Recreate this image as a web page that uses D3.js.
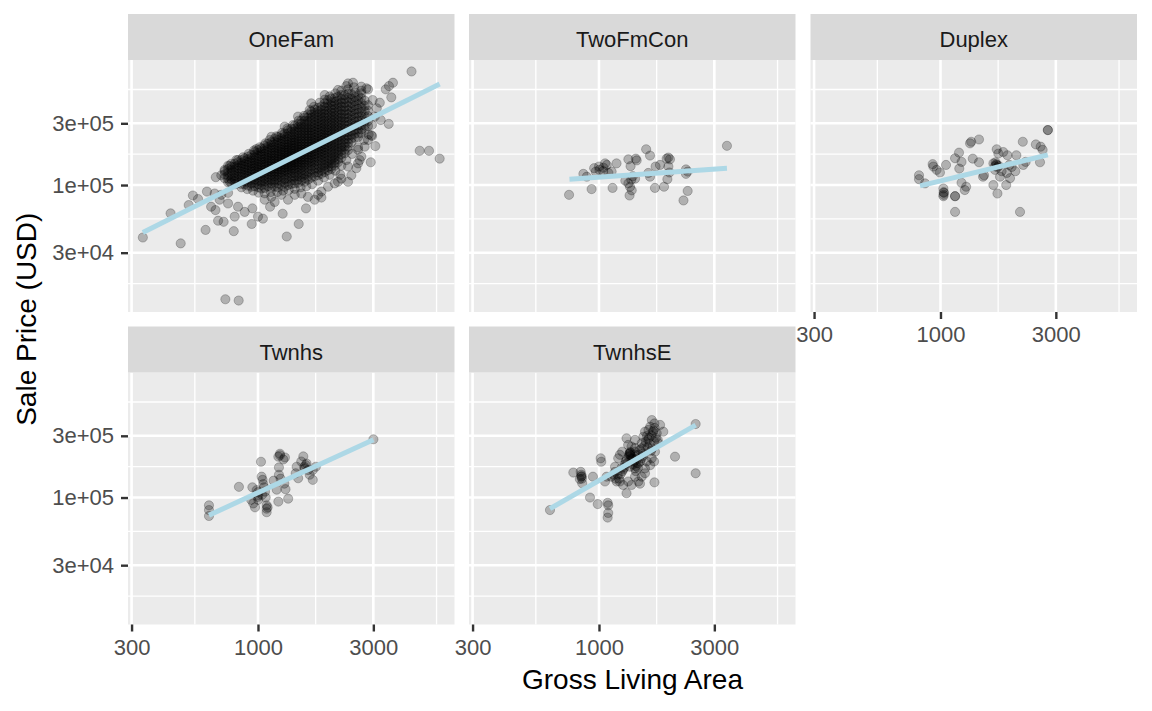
<!DOCTYPE html>
<html>
<head>
<meta charset="utf-8">
<script src="https://cdn.jsdelivr.net/npm/d3@7"></script>
<style>
  body { margin: 0; background: #fff; }
  text { font-family: "Liberation Sans", Arial, sans-serif; }
</style>
</head>
<body>
<div id="chart"></div>
<script>
// Sale price vs gross living area, faceted by building type (log-log)

var facets = ["OneFam", "TwoFmCon", "Duplex", "Twnhs", "TwnhsE"];

// tick breaks and labels
var xBreaks = [300, 1000, 3000];
var xLabels = ["300", "1000", "3000"];
var xMinor = [548, 1732, 5477];
var yBreaks = [30000, 100000, 300000];
var yLabels = ["3e+04", "1e+05", "3e+05"];
var yMinor = [17321, 54772, 173205, 547723];

// OneFam dense band: [area, price (k$), price, ...]
var oneFamCols = [
  [728, 128, 121, 113],
  [752, 141, 133, 125, 118, 112, 105],
  [776, 146, 138, 131, 124, 117, 111, 104],
  [801, 146, 138, 131, 124, 118, 112, 107],
  [827, 150, 142, 135, 129, 122, 116, 110, 104],
  [854, 156, 148, 141, 134, 127, 121, 115, 108, 102],
  [881, 161, 153, 145, 138, 132, 125, 119, 113, 107, 101],
  [909, 166, 158, 150, 143, 136, 130, 123, 117, 111, 105, 99],
  [939, 171, 162, 154, 147, 140, 133, 127, 121, 115, 109, 103, 97],
  [969, 180, 171, 163, 155, 148, 141, 135, 128, 122, 116, 110, 104, 98],
  [1000, 186, 177, 168, 160, 152, 145, 138, 132, 126, 120, 114, 108, 102, 96],
  [1032, 192, 182, 173, 165, 157, 150, 143, 137, 130, 124, 118, 112, 106, 100, 94],
  [1066, 202, 192, 183, 174, 166, 159, 151, 144, 138, 131, 125, 119, 113, 107, 101, 95],
  [1100, 209, 198, 188, 179, 170, 162, 155, 148, 141, 134, 128, 122, 116, 110, 104, 98],
  [1136, 215, 204, 194, 185, 176, 168, 160, 153, 146, 139, 133, 127, 121, 115, 109, 103, 96],
  [1172, 228, 216, 205, 195, 186, 177, 169, 161, 154, 147, 140, 134, 128, 122, 116, 110, 104, 97],
  [1210, 235, 223, 212, 201, 192, 183, 175, 167, 159, 152, 145, 139, 133, 127, 121, 115, 109, 103, 96],
  [1249, 242, 230, 218, 207, 197, 188, 180, 172, 164, 157, 150, 144, 138, 132, 126, 120, 114, 107, 100],
  [1290, 250, 237, 225, 214, 204, 195, 186, 178, 170, 163, 156, 149, 143, 137, 131, 125, 118, 111, 104, 97],
  [1331, 265, 251, 238, 226, 215, 205, 196, 187, 179, 171, 164, 157, 150, 144, 138, 132, 126, 120, 113, 106, 100],
  [1374, 273, 258, 245, 233, 221, 211, 201, 192, 184, 176, 168, 161, 154, 148, 142, 136, 130, 123, 116, 109, 102],
  [1419, 288, 273, 259, 245, 233, 222, 212, 202, 193, 184, 176, 169, 162, 155, 149, 143, 136, 130, 123, 116, 109, 103],
  [1464, 297, 281, 267, 253, 240, 228, 217, 207, 197, 188, 180, 172, 165, 158, 151, 145, 138, 131, 124, 117, 110, 104],
  [1511, 315, 297, 282, 267, 253, 240, 228, 217, 207, 197, 188, 180, 172, 164, 157, 150, 143, 136, 129, 122, 115, 108],
  [1560, 332, 313, 296, 280, 266, 252, 240, 228, 217, 207, 197, 188, 180, 172, 164, 157, 150, 143, 136, 128, 120, 113, 106],
  [1610, 352, 332, 313, 296, 280, 266, 252, 240, 228, 217, 207, 197, 188, 180, 172, 164, 157, 149, 141, 133, 125, 117, 110],
  [1662, 372, 351, 331, 313, 296, 280, 266, 252, 240, 228, 217, 207, 197, 188, 179, 171, 163, 155, 147, 139, 131, 122, 114],
  [1716, 383, 361, 340, 321, 303, 287, 272, 258, 245, 233, 222, 211, 201, 192, 183, 174, 166, 158, 150, 142, 134, 125, 117],
  [1772, 395, 372, 351, 331, 313, 296, 281, 267, 253, 240, 228, 217, 207, 197, 188, 179, 170, 161, 152, 143, 134, 126, 119],
  [1829, 405, 381, 359, 339, 320, 303, 287, 272, 258, 245, 233, 222, 211, 201, 191, 182, 173, 164, 155, 146, 137, 129, 122],
  [1888, 429, 402, 378, 356, 335, 316, 299, 283, 268, 254, 242, 230, 218, 207, 197, 187, 177, 168, 159, 150, 142, 134, 126],
  [1948, 453, 425, 399, 375, 353, 333, 314, 297, 281, 266, 252, 240, 228, 216, 205, 194, 184, 174, 164, 155, 146, 138, 130],
  [2011, 467, 437, 410, 386, 363, 342, 323, 305, 288, 273, 258, 245, 232, 220, 208, 197, 186, 176, 166, 157, 148, 140, 133],
  [2076, 469, 439, 412, 387, 364, 343, 324, 306, 289, 273, 259, 245, 232, 219, 207, 196, 185, 175, 165, 156, 148, 141],
  [2143, 483, 451, 423, 397, 373, 351, 331, 312, 295, 279, 264, 249, 235, 222, 210, 198, 187, 177, 167, 158, 150],
  [2212, 496, 462, 432, 405, 380, 356, 334, 314, 296, 279, 263, 248, 234, 220, 207, 195, 184, 173, 162],
  [2284, 495, 460, 429, 400, 374, 350, 328, 308, 289, 271, 255, 240, 226, 212, 199, 187, 176],
  [2357, 507, 470, 437, 407, 379, 354, 331, 310, 291, 273, 256, 240, 225, 211, 198, 186],
  [2433, 505, 466, 431, 399, 370, 344, 321, 299, 279, 261, 244, 228, 213],
  [2512, 520, 480, 444, 411, 382, 355, 331, 308, 287, 267, 249, 232],
  [2593, 491, 453, 419, 388, 360, 335, 312, 290, 270, 251, 235],
  [2676, 470, 431, 396, 366, 338, 313, 291, 270, 252],
  [2763, 450, 408, 372, 340, 312, 288, 266],
  [2852, 414, 375, 341, 312, 286]
];

// OneFam points on the edges of the band and scattered: [area, price (k$)]
var oneFamOther = [
  [764, 141], [814, 156], [867, 164], [915, 174], [963, 185], [1016, 196], [1073, 210], [1118, 223],
  [1191, 238], [1257, 253], [1323, 274], [1396, 291], [1474, 315], [1550, 342], [1636, 380],
  [1705, 403], [1800, 433], [1888, 457], [1979, 484], [2089, 511], [2212, 536], [2357, 549],
  [2496, 570], [2676, 536],
  [764, 106], [806, 101.5], [854, 96], [903, 93], [954, 90.5], [1006, 87.3], [1066, 86.3],
  [1129, 88.3], [1202, 88.3], [1270, 90.5], [1340, 91.5], [1419, 93.5], [1501, 96], [1585, 98],
  [1674, 101.5], [1772, 108], [1876, 114.5], [1979, 120], [2089, 129], [2212, 141], [2320, 156],
  [2449, 174], [2593, 196], [2746, 223], [2870, 246],
  [334, 39.3], [479, 35.4], [435, 60.4], [517, 70], [538, 83], [565, 78], [615, 89], [607, 45],
  [669, 115], [667, 64], [684, 53], [721, 52], [794, 44], [733, 13.1], [832, 12.8], [942, 50],
  [1048, 55], [1122, 68], [1265, 60], [1315, 40], [1474, 50], [1580, 66], [1772, 84], [1829, 80],
  [2191, 120], [2143, 106], [2357, 106], [2357, 139], [2552, 135], [2634, 156], [2593, 187],
  [2926, 150], [3058, 200], [2963, 239], [3473, 297], [3218, 318], [3560, 476], [3376, 549],
  [3616, 618], [3482, 582], [3190, 433], [4316, 755], [4665, 184], [5098, 184], [5642, 160],
  [2852, 549], [2472, 618], [2320, 582], [2676, 511], [2807, 560], [801, 57], [948, 66],
  [752, 87], [705, 84], [694, 77], [752, 72], [827, 68], [881, 62], [1000, 57], [1066, 77],
  [1136, 81], [1172, 74], [1249, 84], [1331, 77], [1419, 84], [1511, 86], [1610, 81], [1716, 77],
  [1829, 89], [1948, 97], [2076, 103], [2212, 112], [2433, 119], [2676, 166], [2593, 147],
  [2763, 198], [2852, 223], [2944, 243], [662, 86], [640, 68], [705, 119], [728, 131], [827, 156],
  [985, 190], [1136, 236], [1290, 283], [1464, 338], [1662, 428], [1888, 496], [2143, 543],
  [2357, 610], [2676, 576], [2980, 454], [3100, 392], [3040, 338], [2960, 292]
];

var twoFmCon = [
  [752, 84], [932, 93], [862, 122], [890, 116], [955, 135], [970, 127], [1004, 131], [1043, 136],
  [1060, 147], [1077, 143], [1094, 124], [1128, 127], [1182, 147], [1138, 95], [1323, 158],
  [1432, 155], [1351, 140], [1285, 108], [1323, 103], [1344, 97], [1366, 91], [1410, 112],
  [1380, 117], [1338, 83], [1567, 189], [1626, 169], [1714, 139], [1788, 143], [1704, 95],
  [1858, 97], [1626, 116], [1600, 124], [1905, 160], [1937, 163], [1966, 158], [1937, 139],
  [1956, 125], [1918, 111], [2290, 132], [2327, 127], [2290, 122], [2327, 90], [2236, 76],
  [3383, 201], [1000, 139], [1040, 128], [1360, 110], [1420, 160]
];

var duplex = [
  [815, 119], [815, 111], [863, 103], [928, 145], [934, 139], [964, 131], [995, 125], [1054, 143],
  [1028, 94], [1034, 87], [1028, 82], [1149, 82], [1149, 62], [1149, 161], [1193, 178], [1222, 151],
  [1196, 134], [1222, 104], [1260, 91.5], [1277, 97], [1325, 210], [1340, 216], [1443, 225],
  [1360, 160], [1443, 150], [1500, 116], [1514, 119], [1655, 147], [1708, 143], [1680, 131],
  [1735, 175], [1708, 189], [1763, 116], [1790, 128], [1655, 100], [1720, 86], [1818, 180],
  [1892, 170], [1939, 113], [1870, 100], [1970, 138], [2060, 170], [1927, 143], [1880, 124],
  [2040, 128], [2190, 216], [2200, 143], [2133, 62], [2250, 151], [2480, 206], [2596, 198],
  [2645, 187], [2580, 150], [2780, 266], [2780, 266], [1680, 140], [1700, 145], [1720, 137],
  [1690, 150], [1740, 141], [1030, 88], [1030, 84], [1149, 82]
];

var twnhs = [
  [627, 87], [627, 80], [627, 72], [834, 121], [1029, 189], [948, 120], [937, 96], [956, 90],
  [972, 84], [987, 114], [996, 101], [1003, 96], [1035, 145], [1045, 137], [1052, 127], [1069, 111],
  [1076, 100], [1086, 87], [1086, 77], [1096, 84], [1214, 207], [1233, 218], [1273, 197],
  [1293, 204], [1221, 171], [1221, 150], [1195, 115], [1214, 93], [1285, 128], [1300, 116],
  [1333, 98], [1445, 173], [1432, 154], [1466, 141], [1540, 208], [1554, 173], [1588, 183],
  [1612, 163], [1636, 150], [1685, 137], [1735, 173], [1685, 163], [3002, 282], [1000, 110],
  [1040, 105], [1060, 120], [1160, 135], [1240, 140], [1510, 190], [1086, 82], [1233, 212],
  [1560, 168], [1575, 178], [1003, 104]
];

var twnhsE = [
  [627, 80], [783, 156], [840, 158], [845, 145], [848, 146], [833, 139], [852, 129], [918, 100],
  [988, 89], [1016, 201], [1022, 189], [944, 145], [1086, 91], [1092, 87], [1092, 76], [1086, 70],
  [1059, 133], [1075, 145], [1123, 145], [1165, 158], [1165, 173], [1201, 201], [1220, 214],
  [1247, 226], [1300, 287], [1341, 220], [1363, 201], [1409, 279], [1409, 241], [1341, 173],
  [1409, 168], [1454, 184], [1478, 233], [1502, 263], [1526, 295], [1550, 323], [1602, 333],
  [1628, 353], [1654, 397], [1696, 374], [1733, 314], [1790, 364], [1845, 323], [1761, 263],
  [1705, 226], [1654, 201], [1576, 190], [1550, 168], [1502, 145], [1454, 133], [1409, 145],
  [1320, 133], [1300, 108], [1258, 125], [1220, 133], [1183, 133], [1363, 125], [1478, 128],
  [1550, 154], [1628, 178], [1696, 131], [1690, 190], [2063, 207], [2511, 154], [2511, 370],
  [1409, 226], [1363, 248], [1320, 255], [1409, 214], [1502, 201], [1341, 214], [1330, 208],
  [1350, 222], [1290, 190], [1280, 180], [1270, 170], [1250, 160], [1230, 152], [1210, 140],
  [1195, 150], [1380, 200], [1400, 190], [1420, 175], [1440, 200], [1460, 215], [1480, 190],
  [1500, 240], [1520, 220], [1540, 250], [1560, 270], [1580, 300], [1600, 280], [1620, 260],
  [1650, 300], [1680, 330], [1700, 345], [1720, 290], [1750, 280], [1660, 240], [1640, 230],
  [845, 150], [850, 140], [1335, 218], [1345, 225], [1355, 210], [1300, 195], [1310, 185],
  [1260, 165], [1240, 170], [1430, 185], [1450, 170], [1520, 210], [1590, 245], [1610, 290],
  [1670, 320], [1690, 270], [1380, 180], [1420, 160], [1150, 150], [1170, 140]
];

// lm fit lines: [[area, price k$], [area, price k$]]
var fitLines = [
  [[334, 43], [5642, 605]],
  [[755, 111], [3383, 135]],
  [[823, 98.5], [2780, 171]],
  [[627, 73], [3002, 280]],
  [[627, 82], [2511, 363]]
];

// flatten the OneFam band rows into points
var oneFam = [];
oneFamCols.forEach(function(row) {
  row.slice(1).forEach(function(p) { oneFam.push([row[0], p]); });
});
oneFam = oneFam.concat(oneFamOther);

var facetData = [oneFam, twoFmCon, duplex, twnhs, twnhsE];

// layout
var W = 1152, H = 711;
var colLeft = [128, 469, 810.5];
var stripTop = [14, 326.5];
var stripH = 46, panelW = 326.5, panelH = 252;

var svg = d3.select("#chart").append("svg")
  .attr("width", W).attr("height", H);
svg.append("rect").attr("width", W).attr("height", H).attr("fill", "#fff");

// shared log scales with 5% expansion like ggplot
var allPts = [].concat.apply([], facetData);
var xExt = d3.extent(allPts, function(d) { return Math.log10(d[0]); });
var yExt = d3.extent(allPts, function(d) { return Math.log10(d[1] * 1000); });
var xPad = (xExt[1] - xExt[0]) * 0.05, yPad = (yExt[1] - yExt[0]) * 0.05;

var x = d3.scaleLog()
  .domain([Math.pow(10, xExt[0] - xPad), Math.pow(10, xExt[1] + xPad)])
  .range([0, panelW]);
var y = d3.scaleLog()
  .domain([Math.pow(10, yExt[0] - yPad), Math.pow(10, yExt[1] + yPad)])
  .range([panelH, 0]);

var line = d3.line()
  .x(function(d) { return x(d[0]); })
  .y(function(d) { return y(d[1] * 1000); });

facets.forEach(function(name, i) {
  var col = i % 3, row = Math.floor(i / 3);
  var g = svg.append("g")
    .attr("transform", "translate(" + colLeft[col] + "," + (stripTop[row] + stripH) + ")");

  // strip
  svg.append("rect")
    .attr("x", colLeft[col]).attr("y", stripTop[row])
    .attr("width", panelW).attr("height", stripH)
    .attr("fill", "#D9D9D9");
  svg.append("text")
    .attr("x", colLeft[col] + panelW / 2).attr("y", stripTop[row] + 33)
    .attr("text-anchor", "middle")
    .attr("font-size", "22px")
    .attr("fill", "#1A1A1A")
    .text(name);

  // panel background + grid
  g.append("rect").attr("width", panelW).attr("height", panelH).attr("fill", "#EBEBEB");

  g.selectAll(".xminor").data(xMinor).enter().append("line")
    .attr("x1", function(d) { return x(d); }).attr("x2", function(d) { return x(d); })
    .attr("y1", 0).attr("y2", panelH)
    .attr("stroke", "#fff").attr("stroke-width", 1.3);
  g.selectAll(".yminor").data(yMinor).enter().append("line")
    .attr("y1", function(d) { return y(d); }).attr("y2", function(d) { return y(d); })
    .attr("x1", 0).attr("x2", panelW)
    .attr("stroke", "#fff").attr("stroke-width", 1.3);
  g.selectAll(".xmajor").data(xBreaks).enter().append("line")
    .attr("x1", function(d) { return x(d); }).attr("x2", function(d) { return x(d); })
    .attr("y1", 0).attr("y2", panelH)
    .attr("stroke", "#fff").attr("stroke-width", 2.6);
  g.selectAll(".ymajor").data(yBreaks).enter().append("line")
    .attr("y1", function(d) { return y(d); }).attr("y2", function(d) { return y(d); })
    .attr("x1", 0).attr("x2", panelW)
    .attr("stroke", "#fff").attr("stroke-width", 2.6);

  // points
  g.selectAll(".pt").data(facetData[i]).enter().append("circle")
    .attr("cx", function(d) { return x(d[0]); })
    .attr("cy", function(d) { return y(d[1] * 1000); })
    .attr("r", 4.6)
    .attr("fill", "#000").attr("fill-opacity", 0.25)
    .attr("stroke", "#000").attr("stroke-opacity", 0.25).attr("stroke-width", 0.9);

  // fitted line
  g.append("path")
    .datum(fitLines[i])
    .attr("d", line)
    .attr("fill", "none")
    .attr("stroke", "#ADD8E6")
    .attr("stroke-width", 5);

  // axes
  if (col === 0) {
    var ya = g.append("g").call(
      d3.axisLeft(y).tickValues(yBreaks).tickSize(7).tickPadding(7)
        .tickFormat(function(d, j) { return yLabels[j]; }));
    styleAxis(ya);
  }
  if (row === 1 || col === 2) {
    var xa = g.append("g").attr("transform", "translate(0," + panelH + ")").call(
      d3.axisBottom(x).tickValues(xBreaks).tickSize(7).tickPadding(7.5)
        .tickFormat(function(d, j) { return xLabels[j]; }));
    styleAxis(xa);
  }
});

function styleAxis(a) {
  a.select(".domain").remove();
  a.selectAll(".tick line").attr("stroke", "#333333").attr("stroke-width", 2.4);
  a.selectAll(".tick text")
    .attr("fill", "#4D4D4D")
    .style("font-size", "22px")
    .style("font-family", "'Liberation Sans', Arial, sans-serif");
}

// axis titles
svg.append("text")
  .attr("x", (colLeft[0] + colLeft[2] + panelW) / 2).attr("y", 689)
  .attr("text-anchor", "middle")
  .attr("font-size", "28px")
  .attr("fill", "#000")
  .text("Gross Living Area");

svg.append("text")
  .attr("transform", "translate(36," + (stripTop[0] + stripTop[1] + stripH + panelH) / 2 + ") rotate(-90)")
  .attr("text-anchor", "middle")
  .attr("font-size", "28px")
  .attr("fill", "#000")
  .text("Sale Price (USD)");
</script>
</body>
</html>
